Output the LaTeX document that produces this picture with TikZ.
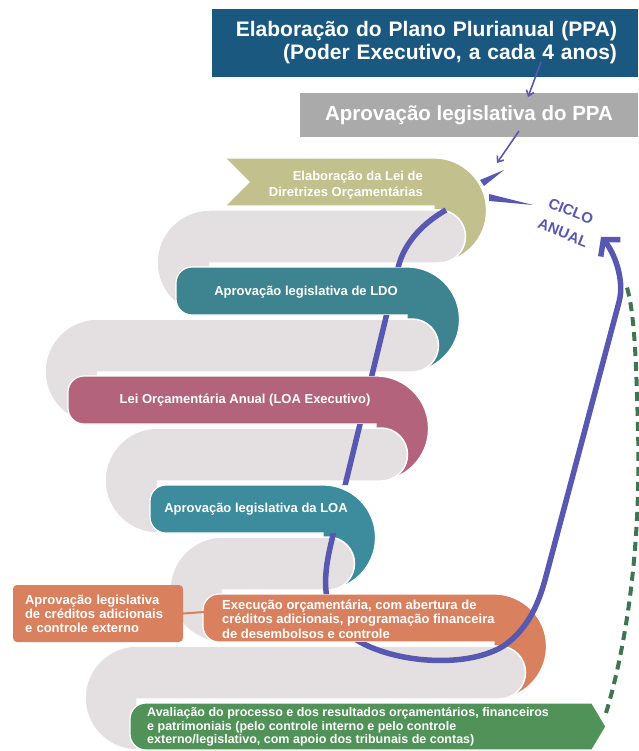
\documentclass[tikz,border=0pt]{standalone}
\usepackage{fontspec}
\setmainfont{Liberation Sans}
\usetikzlibrary{arrows.meta}

\definecolor{ppablue}{RGB}{27,88,128}
\definecolor{ppagray}{RGB}{170,170,170}
\definecolor{backgray}{RGB}{228,224,226}
\definecolor{ldoolive}{RGB}{194,192,140}
\definecolor{ldoteal}{RGB}{62,132,144}
\definecolor{loapink}{RGB}{180,99,124}
\definecolor{loateal}{RGB}{60,140,158}
\definecolor{execorange}{RGB}{217,128,95}
\definecolor{evalgreen}{RGB}{80,146,88}
\definecolor{cycleblue}{RGB}{88,88,178}
\definecolor{dashgreen}{RGB}{62,118,78}

\begin{document}
\begin{tikzpicture}[
    x=1pt, y=1pt,
    frontband/.style={draw=white, line width=1.2pt},
    backband/.style={fill=backgray, draw=white, line width=1.5pt},
    bandtext/.style={text=white, inner sep=0pt, font=\bfseries\fontsize{13}{15}\selectfont},
    topbox/.style={text=white, minimum height=68pt, font=\bfseries\fontsize{21}{23}\selectfont},
    cycleline/.style={draw=cycleblue, line width=5.5pt},
    cycletext/.style={text=cycleblue, inner sep=0pt, rotate=-22, font=\bfseries\fontsize{15}{15}\selectfont},
    smallarrow/.style={draw=cycleblue, line width=1.6pt, -{Straight Barb[length=5pt,width=8pt]}}
]
\useasboundingbox (0,0) rectangle (638,-751);

% PPA boxes
\node[topbox, fill=ppablue, minimum width=426pt, text width=384pt, inner xsep=21pt, align=right] (ppa) at (425,-43) {Elaboração do Plano Plurianual (PPA)\\(Poder Executivo, a cada 4 anos)};
\node[topbox, fill=ppagray, minimum width=338pt, minimum height=44pt, font=\bfseries\fontsize{20.5}{22}\selectfont] (ppaleg) at (469,-115) {Aprovação legislativa do PPA};

% Ribbon: level 1 (LDO elaboration)
\fill[ldoolive, frontband] (225,-158) -- (434,-158) arc[start angle=90, end angle=-90, radius=52.5] -- (434,-206) -- (225,-206) -- (249,-182) -- cycle;
\fill[backband] (439,-210) -- (209.5,-210) arc[start angle=90, end angle=270, radius=52.5] -- (209.5,-263) -- (439,-263) arc[start angle=-90, end angle=90, radius=26.5] -- cycle;
\node[bandtext, align=right, anchor=east, font=\bfseries\fontsize{13}{16}\selectfont] (ldoelab) at (423,-185) {Elaboração da Lei de\\Diretrizes Orçamentárias};

% level 2 (LDO approval)
\fill[ldoteal, frontband] (192,-267) -- (407,-267) arc[start angle=90, end angle=-90, radius=52.5] -- (407,-315) -- (192,-315) arc[start angle=270, end angle=180, radius=16] -- (176,-283) arc[start angle=180, end angle=90, radius=16] -- cycle;
\fill[backband] (412,-319) -- (97.5,-319) arc[start angle=90, end angle=270, radius=52.5] -- (97.5,-372) -- (412,-372) arc[start angle=-90, end angle=90, radius=26.5] -- cycle;
\node[bandtext] (ldoapr) at (306,-292) {Aprovação legislativa de LDO};

% level 3 (LOA)
\fill[loapink, frontband] (84,-376) -- (376,-376) arc[start angle=90, end angle=-90, radius=52.5] -- (376,-424) -- (84,-424) arc[start angle=270, end angle=180, radius=16] -- (68,-392) arc[start angle=180, end angle=90, radius=16] -- cycle;
\fill[backband] (381,-428) -- (157.5,-428) arc[start angle=90, end angle=270, radius=52.5] -- (157.5,-481) -- (381,-481) arc[start angle=-90, end angle=90, radius=26.5] -- cycle;
\node[bandtext] (loaexec) at (245,-400) {Lei Orçamentária Anual (LOA Executivo)};

% level 4 (LOA approval)
\fill[loateal, frontband] (166,-485) -- (323,-485) arc[start angle=90, end angle=-90, radius=52.5] -- (323,-533) -- (166,-533) arc[start angle=270, end angle=180, radius=16] -- (150,-501) arc[start angle=180, end angle=90, radius=16] -- cycle;
\fill[backband] (328,-537) -- (222.5,-537) arc[start angle=90, end angle=270, radius=52.5] -- (222.5,-590) -- (328,-590) arc[start angle=-90, end angle=90, radius=26.5] -- cycle;
\node[bandtext] (loaapr) at (256,-509) {Aprovação legislativa da LOA};

% level 5 (execution)
\fill[execorange, frontband] (219,-594) -- (494,-594) arc[start angle=90, end angle=-90, radius=52.5] -- (494,-642) -- (219,-642) arc[start angle=270, end angle=180, radius=16] -- (203,-610) arc[start angle=180, end angle=90, radius=16] -- cycle;
\fill[backband] (499,-646) -- (137,-646) arc[start angle=90, end angle=270, radius=52] -- (137,-699) -- (499,-699) arc[start angle=-90, end angle=90, radius=26.5] -- cycle;
\node[bandtext, align=left, anchor=west, font=\bfseries\fontsize{13}{14.5}\selectfont] (exec) at (222,-619) {Execução orçamentária, com abertura de\\créditos adicionais, programação financeira\\de desembolsos e controle};

% level 6 (evaluation)
\fill[evalgreen, frontband] (146,-703) -- (592,-703) -- (606,-726.5) -- (592,-750) -- (146,-750) arc[start angle=270, end angle=180, radius=16] -- (130,-719) arc[start angle=180, end angle=90, radius=16] -- cycle;
\node[bandtext, align=left, anchor=west, font=\bfseries\fontsize{12.5}{13.5}\selectfont] (aval) at (147,-727) {Avaliação do processo e dos resultados orçamentários, financeiros\\e patrimoniais (pelo controle interno e pelo controle\\externo/legislativo, com apoio dos tribunais de contas)};

% side box for additional credits
\node[fill=execorange, rounded corners=4pt, minimum width=170pt, minimum height=57pt, text width=146pt, inner xsep=12pt, align=left, text=white, font=\bfseries\fontsize{13}{14}\selectfont] (credadd) at (98,-613.5) {Aprovação legislativa\\de créditos adicionais\\e controle externo};
\coordinate (execin) at (204,-612);
\draw[execorange, line width=2pt] (credadd.east) -- (execin);

% dashed return from evaluation
\draw[dashgreen, line width=4pt, dash pattern=on 9pt off 6pt] (606,-713) .. controls (628,-640) and (641,-540) .. (638,-430) .. controls (636,-350) and (634,-310) .. (626,-284);

% annual cycle, hidden behind the front bands
\begin{scope}[even odd rule]
  \clip (0,0) rectangle (638,-751)
    (170,-267) rectangle (407,-315)
    (60,-376) rectangle (376,-424)
    (145,-485) rectangle (376,-533)
    (198,-594) rectangle (494,-642);
  \draw[cycleline, -{Straight Barb[length=11pt,width=26pt]}] (446,-210) .. controls (418,-226) and (403,-247) .. (398,-268) -- (333,-535) .. controls (326,-565) and (312,-615) .. (360,-642) .. controls (400,-664) and (470,-668) .. (505,-645) .. controls (528,-628) and (538,-605) .. (545,-580) -- (619,-302) .. controls (625,-280) and (614,-252) .. (601,-237);
\end{scope}
\node[cycletext] (ciclo) at (571,-211) {CICLO};
\node[cycletext] (anual) at (563,-233) {ANUAL};
\fill[cycleblue] (480,-180) -- (484,-186) -- (504,-170) -- cycle;
\fill[cycleblue] (489,-194) -- (489,-201) -- (533,-205) -- cycle;

% arrows from the PPA
\coordinate (ppaout) at (541,-62);
\coordinate (ppain) at (528,-97);
\coordinate (legout) at (519,-131);
\coordinate (ldoin) at (497,-163);
\draw[smallarrow] (ppaout) -- (ppain);
\draw[smallarrow] (legout) -- (ldoin);

\end{tikzpicture}
\end{document}
